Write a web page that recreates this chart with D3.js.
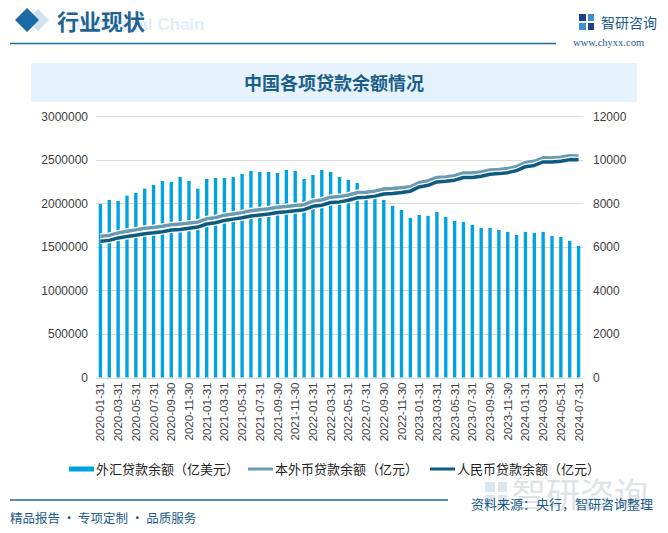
<!DOCTYPE html>
<html><head><meta charset="utf-8">
<script src="https://cdn.jsdelivr.net/npm/d3@7"></script>
<style>body{margin:0;background:#fff}svg{display:block}</style>
</head><body><div id="c"></div>
<script>
const categories = ["2020-01-31","2020-02-29","2020-03-31","2020-04-30","2020-05-31","2020-06-30","2020-07-31","2020-08-31","2020-09-30","2020-10-31","2020-11-30","2020-12-31",
"2021-01-31","2021-02-28","2021-03-31","2021-04-30","2021-05-31","2021-06-30","2021-07-31","2021-08-31","2021-09-30","2021-10-31","2021-11-30","2021-12-31",
"2022-01-31","2022-02-28","2022-03-31","2022-04-30","2022-05-31","2022-06-30","2022-07-31","2022-08-31","2022-09-30","2022-10-31","2022-11-30","2022-12-31",
"2023-01-31","2023-02-28","2023-03-31","2023-04-30","2023-05-31","2023-06-30","2023-07-31","2023-08-31","2023-09-30","2023-10-31","2023-11-30","2023-12-31",
"2024-01-31","2024-02-29","2024-03-31","2024-04-30","2024-05-31","2024-06-30","2024-07-31"];
const fxLoans = [7974,8158,8112,8357,8480,8678,8847,9031,8985,9214,9031,8678,
9122,9168,9168,9214,9352,9490,9444,9444,9398,9536,9490,9122,
9306,9536,9444,9214,9077,8939,8617,8342,8158,7883,7699,7332,
7469,7423,7607,7377,7194,7148,7010,6872,6872,6781,6689,6551,
6689,6643,6689,6505,6459,6275,6046];
const totalLoans = [1621260,1632106,1660514,1679084,1695462,1713353,1723752,1736953,1755008,1761734,1774424,1784081,
1822228,1836217,1864250,1878515,1893472,1916405,1927003,1939108,1955223,1964030,1976246,1985007,
2025886,2039172,2070175,2077520,2096244,2123781,2128679,2140576,2165722,2169552,2179163,2190491,
2239316,2258590,2298160,2304149,2317777,2348880,2347651,2360610,2383641,2390388,2400092,2422281,
2469092,2483265,2522792,2520851,2530023,2547241,2544808];
const rmbLoans = [1566000,1575000,1603000,1620000,1635000,1652000,1662000,1675000,1694000,1700000,1715000,1727500,
1763300,1776900,1804200,1818900,1833900,1855100,1865900,1878100,1894700,1903000,1915700,1926900,
1966700,1979000,2010300,2016800,2035700,2063800,2070600,2083100,2107800,2112400,2124500,2139900,
2188900,2207000,2245900,2253100,2266700,2297200,2297600,2311200,2334300,2341700,2352600,2375900,
2421600,2436100,2475300,2474600,2484100,2502500,2501700];
const leftTicks = [0,500000,1000000,1500000,2000000,2500000,3000000];
const rightTicks = [0,2000,4000,6000,8000,10000,12000];
const seriesNames = ["外汇贷款余额（亿美元）","本外币贷款余额（亿元）","人民币贷款余额（亿元）"];

const W=668,H=533;
const svg=d3.select("#c").append("svg").attr("width",W).attr("height",H);
const font="'Noto Sans CJK SC','Noto Sans',sans-serif";

// header
svg.append("path").attr("d","M38,9 L49,20 L38,31 L27,20Z").attr("fill","#cfe2ef");
svg.append("path").attr("d","M27,8 L39,20 L27,32 L15,20Z").attr("fill","#1a6aa6");
svg.append("text").attr("x",76).attr("y",30).text("Industrial Chain")
  .attr("font-family","Arial,'Liberation Sans',sans-serif").attr("font-weight","bold").attr("font-size",17).attr("fill","#dfeefa");
svg.append("text").attr("x",57).attr("y",30).text("行业现状")
  .attr("font-family",font).attr("font-weight","bold").attr("font-size",22).attr("fill","#1f6394");
svg.append("line").attr("x1",10).attr("x2",556).attr("y1",43.5).attr("y2",43.5).attr("stroke","#1d6a9c").attr("stroke-width",1.5);
// logo
const lg=svg.append("g").attr("transform","translate(579,14)");
lg.append("rect").attr("x",0).attr("y",0).attr("width",7).attr("height",7).attr("fill","#1d3f8a");
lg.append("rect").attr("x",0).attr("y",9).attr("width",7).attr("height",7).attr("fill","#3a8fd6");
lg.append("rect").attr("x",9).attr("y",0).attr("width",6).attr("height",7).attr("fill","#3a8fd6");
lg.append("rect").attr("x",9).attr("y",9).attr("width",6).attr("height",7).attr("fill","#1d3f8a");
svg.append("text").attr("x",601).attr("y",28).text("智研咨询").attr("font-family",font).attr("font-size",14).attr("fill","#1d5a8c");
svg.append("text").attr("x",573).attr("y",46).text("www.chyxx.com").attr("font-family","'Liberation Serif','DejaVu Serif',serif").attr("font-size",10.5).attr("fill","#1d5a8c");

// title band
svg.append("rect").attr("x",31).attr("y",63).attr("width",606).attr("height",39).attr("fill","#e6f3fc");
svg.append("text").attr("x",334).attr("y",90).attr("text-anchor","middle").text("中国各项贷款余额情况")
  .attr("font-family",font).attr("font-weight","bold").attr("font-size",18).attr("fill","#1b5e8a");

// plot
const x0=96,x1=583,yTop=116.3,yBot=377.5;
const x=d3.scaleBand().domain(categories).range([x0,x1]).paddingInner(0.62).paddingOuter(0.31);
const yL=d3.scaleLinear().domain([0,3000000]).range([yBot,yTop]);
const yR=d3.scaleLinear().domain([0,12000]).range([yBot,yTop]);

svg.append("g").selectAll("line").data(leftTicks).join("line")
  .attr("x1",x0).attr("x2",x1).attr("y1",d=>Math.round(yL(d))+0.5).attr("y2",d=>Math.round(yL(d))+0.5)
  .attr("stroke","#d9d9d9").attr("stroke-width",1);

svg.append("g").selectAll("rect").data(fxLoans).join("rect")
  .attr("x",(d,i)=>x(categories[i])).attr("width",x.bandwidth())
  .attr("y",d=>yR(d)).attr("height",d=>yBot-yR(d)).attr("fill","#00a3df");

const line=d3.line().x((d,i)=>x(categories[i])+x.bandwidth()/2);
function drawLine(vals,col){
  const l=line.y(d=>yL(d));
  svg.append("path").attr("d",l(vals)).attr("fill","none").attr("stroke","#ffffff").attr("stroke-width",6).attr("stroke-linejoin","round");
  svg.append("path").attr("d",l(vals)).attr("fill","none").attr("stroke",col).attr("stroke-width",3.5).attr("stroke-linejoin","round");
}
drawLine(totalLoans,"#6a9bb3");
drawLine(rmbLoans,"#0d5c80");

// axes
const axL=d3.axisLeft(yL).tickValues(leftTicks).tickSize(0).tickPadding(8).tickFormat(d=>String(d));
const gL=svg.append("g").attr("transform",`translate(${x0},0)`).call(axL);
gL.select(".domain").remove();
gL.selectAll("text").attr("font-family","'Liberation Sans',Arial,sans-serif").attr("font-size",12).attr("fill","#404040");
const axR=d3.axisRight(yR).tickValues(rightTicks).tickSize(0).tickPadding(10).tickFormat(d=>String(d));
const gR=svg.append("g").attr("transform",`translate(${x1},0)`).call(axR);
gR.select(".domain").remove();
gR.selectAll("text").attr("font-family","'Liberation Sans',Arial,sans-serif").attr("font-size",12).attr("fill","#404040");

const axB=d3.axisBottom(x).tickValues(categories.filter((d,i)=>i%2===0)).tickSize(0).tickPadding(0);
const gB=svg.append("g").attr("transform",`translate(0,${yBot})`).call(axB);
gB.select(".domain").remove();
gB.selectAll("text").attr("font-family","'Liberation Sans',Arial,sans-serif").attr("font-size",11.5).attr("fill","#404040")
  .attr("text-anchor","end").attr("dy","0.35em").attr("transform","translate(0,5) rotate(-90)");

// legend
const lgd=svg.append("g");
const legItems=[{x:69,col:"#00a3df",w:5},{x:248,col:"#6a9bb3",w:3},{x:430,col:"#0d5c80",w:3}];
legItems.forEach((it,i)=>{
  lgd.append("line").attr("x1",it.x).attr("x2",it.x+25).attr("y1",469).attr("y2",469).attr("stroke",it.col).attr("stroke-width",it.w);
  lgd.append("text").attr("x",it.x+27).attr("y",474).text(seriesNames[i]).attr("font-family",font).attr("font-size",13).attr("fill","#222");
});

// watermark
const wm=svg.append("g").attr("opacity",0.45);
wm.append("rect").attr("x",485).attr("y",482).attr("width",10).attr("height",10).attr("fill","#b8c6d4");
wm.append("rect").attr("x",485).attr("y",495).attr("width",10).attr("height",10).attr("fill","#b8c6d4");
wm.append("rect").attr("x",498).attr("y",482).attr("width",9).attr("height",10).attr("fill","#b8c6d4");
wm.append("rect").attr("x",498).attr("y",495).attr("width",9).attr("height",10).attr("fill","#b8c6d4");
wm.append("text").attr("x",512).attr("y",507).text("智研咨询").attr("font-family",font).attr("font-size",34).attr("fill","#b8c2cc");

// footer
svg.append("line").attr("x1",10).attr("x2",448).attr("y1",500).attr("y2",500).attr("stroke","#1d6a9c").attr("stroke-width",1.5);
svg.append("text").attr("x",471).attr("y",509).text("资料来源：央行，智研咨询整理").attr("font-family",font).attr("font-size",13).attr("fill","#1d5a8c");
svg.append("text").attr("x",10).attr("y",523).text("精品报告 · 专项定制 · 品质服务").attr("font-family",font).attr("font-size",12.5).attr("fill","#1d5a8c");
</script></body></html>
